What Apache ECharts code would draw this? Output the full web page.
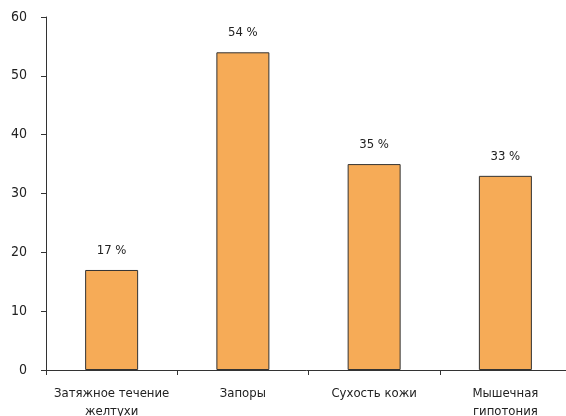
<!DOCTYPE html>
<html>
<head>
<meta charset="utf-8">
<script src="https://cdn.jsdelivr.net/npm/echarts@6/dist/echarts.min.js"></script>
<style>
  html, body { margin: 0; padding: 0; background: #fff; }
  #chart { width: 566px; height: 416px; }
</style>
</head>
<body>
<div id="chart"></div>
<script>
// данные
const categories = ['Затяжное течение\nжелтухи', 'Запоры', 'Сухость кожи', 'Мышечная\nгипотония']
const values = [17, 54, 35, 33]
const yTicks = [0, 10, 20, 30, 40, 50, 60]

const font = '"DejaVu Sans Condensed", "Liberation Sans Narrow", sans-serif'

const chart = echarts.init(document.getElementById('chart'))
chart.setOption({
  animation: false,
  grid: {
    left: 46,
    top: 17,
    width: 525,
    height: 353,
    outerBoundsMode: 'none',
    containLabel: false
  },
  xAxis: {
    type: 'category',
    data: categories,
    axisLine: { lineStyle: { color: '#333', width: 1 } },
    axisTick: { show: true, length: 5, lineStyle: { color: '#333' } },
    axisLabel: {
      interval: 0,
      color: '#222',
      fontFamily: font,
      fontSize: 13,
      lineHeight: 18,
      margin: 15
    }
  },
  yAxis: {
    type: 'value',
    min: yTicks[0],
    max: yTicks[yTicks.length - 1],
    interval: 10,
    axisLine: { show: true, lineStyle: { color: '#333', width: 1 } },
    axisTick: { show: true, length: 5, lineStyle: { color: '#333' } },
    splitLine: { show: false },
    axisLabel: {
      color: '#222',
      fontFamily: font,
      fontSize: 14,
      margin: 19
    }
  },
  series: [{
    type: 'bar',
    data: values,
    barWidth: 53,
    itemStyle: {
      color: '#F6AB57',
      borderColor: '#333',
      borderWidth: 1
    },
    label: {
      show: true,
      position: 'top',
      distance: 13,
      formatter: '{c} %',
      color: '#222',
      fontFamily: font,
      fontSize: 13
    }
  }]
})
</script>
</body>
</html>
